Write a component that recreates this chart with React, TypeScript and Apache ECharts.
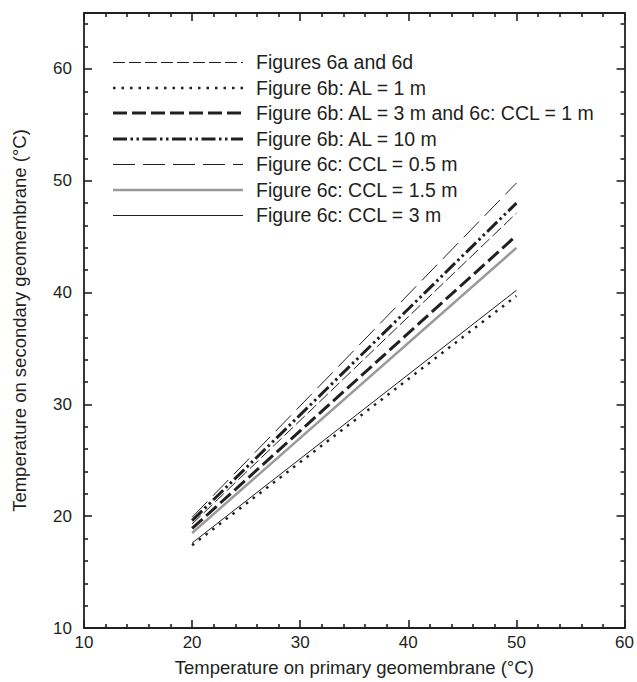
import React, { useEffect, useRef } from "react";
import * as echarts from "echarts";

const xValues = [20, 50];
const seriesNames = [
  "Figures 6a and 6d",
  "Figure 6b: AL = 1 m",
  "Figure 6b: AL = 3 m and 6c: CCL = 1 m",
  "Figure 6b: AL = 10 m",
  "Figure 6c: CCL = 0.5 m",
  "Figure 6c: CCL = 1.5 m",
  "Figure 6c: CCL = 3 m",
];
const fig6a6d = [19.3, 47.1];
const al1 = [17.4, 39.7];
const al3ccl1 = [18.9, 45.1];
const al10 = [19.6, 48.0];
const ccl05 = [19.9, 49.8];
const ccl15 = [18.5, 44.0];
const ccl3 = [17.6, 40.2];
const xTicks = [10, 20, 30, 40, 50, 60];
const yTicks = [10, 20, 30, 40, 50, 60];

const INK = "#231f20";
const FONT = "Liberation Sans, Arial, sans-serif";

export default function App() {
  const ref = useRef<HTMLDivElement>(null);
  useEffect(() => {
    if (!ref.current) return;
    const chart = echarts.init(ref.current, null, { renderer: "svg" });
    const values = [fig6a6d, al1, al3ccl1, al10, ccl05, ccl15, ccl3];
    const styles: any[] = [
      { color: INK, width: 1, dash: [12, 4] },
      { color: INK, width: 2.5, dash: [2.5, 6] },
      { color: INK, width: 3, dash: [14, 5] },
      { color: INK, width: 3, dash: [14, 3.5, 2.5, 3.5, 2.5, 3.5] },
      { color: INK, width: 1, dash: [22, 8] },
      { color: "#9a9a9a", width: 2.5, dash: null },
      { color: INK, width: 1, dash: null },
    ];
    const series = seriesNames.map((name, i) => ({
      name,
      type: "line",
      data: xValues.map((x, j) => [x, values[i][j]]),
      symbol: "none",
      showSymbol: false,
      lineStyle: {
        color: styles[i].color,
        width: styles[i].width,
        type: styles[i].dash ? styles[i].dash : "solid",
      },
      itemStyle: { color: styles[i].color },
      z: i === 5 ? 1 : 2,
    }));

    const legendLeft = 113;
    const legendLineLen = 130;
    const legendTextX = 256;
    const legendTop = 62;
    const legendStep = 25.5;
    const legendGraphics: any[] = [];
    seriesNames.forEach((name, i) => {
      const y = legendTop + i * legendStep;
      const ly = styles[i].width <= 1 ? Math.round(y) + 0.5 : Math.round(y);
      legendGraphics.push({
        type: "line",
        shape: { x1: legendLeft, y1: ly, x2: legendLeft + legendLineLen, y2: ly },
        style: {
          stroke: styles[i].color,
          lineWidth: styles[i].width,
          lineDash: styles[i].dash || undefined,
        },
      });
      legendGraphics.push({
        type: "text",
        x: legendTextX,
        y: y,
        style: {
          text: name,
          fontSize: 19.5,
          fontFamily: FONT,
          fill: INK,
          verticalAlign: "middle",
          align: "left",
        },
      });
    });

    const axisCommon = {
      axisLine: { show: true, onZero: false, lineStyle: { color: INK, width: 1.8 } },
      axisTick: { show: true, inside: true, length: 8, lineStyle: { color: INK, width: 1.6 } },
      minorTick: { show: true, splitNumber: 5, length: 4, lineStyle: { color: INK, width: 1.6 } },
      splitLine: { show: false },
      minorSplitLine: { show: false },
    };
    chart.setOption({
      animation: false,
      backgroundColor: "#ffffff",
      textStyle: { fontFamily: FONT },
      grid: { left: 84, right: 11, top: 13, bottom: 49, containLabel: false },
      graphic: legendGraphics,
      xAxis: [
        {
          type: "value",
          min: 10,
          max: 60,
          interval: 10,
          position: "bottom",
          name: "Temperature on primary geomembrane (°C)",
          nameLocation: "middle",
          nameGap: 30,
          nameTextStyle: { fontSize: 18.5, color: INK, fontFamily: FONT },
          axisLabel: {
            fontSize: 17,
            color: INK,
            margin: 6,
            fontFamily: FONT,
            formatter: (v: number) => (xTicks.includes(v) ? String(v) : ""),
          },
          ...axisCommon,
        },
        {
          type: "value",
          min: 10,
          max: 60,
          interval: 10,
          position: "top",
          axisLabel: { show: false },
          ...axisCommon,
        },
      ],
      yAxis: [
        {
          type: "value",
          min: 10,
          max: 65,
          interval: 10,
          position: "left",
          name: "Temperature on secondary geomembrane (°C)",
          nameLocation: "middle",
          nameGap: 55,
          nameTextStyle: { fontSize: 18.5, color: INK, fontFamily: FONT },
          axisLabel: {
            fontSize: 17,
            color: INK,
            margin: 12,
            fontFamily: FONT,
            formatter: (v: number) => (yTicks.includes(v) ? String(v) : ""),
          },
          ...axisCommon,
        },
        {
          type: "value",
          min: 10,
          max: 65,
          interval: 10,
          position: "right",
          axisLabel: { show: false },
          ...axisCommon,
        },
      ],
      series,
    });
    return () => chart.dispose();
  }, []);
  return <div ref={ref} style={{ width: 637, height: 682, position: "absolute", left: 0, top: 0 }} />;
}
